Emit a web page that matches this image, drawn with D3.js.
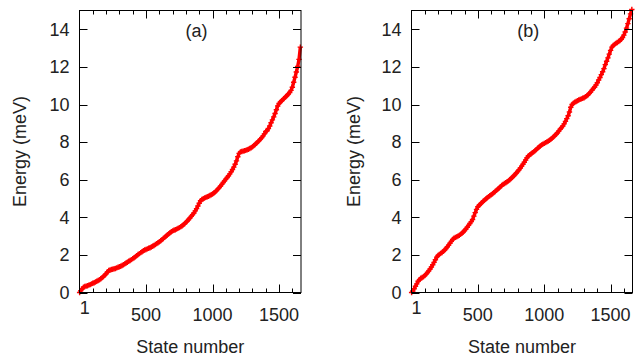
<!DOCTYPE html>
<html><head><meta charset="utf-8">
<script src="https://cdn.jsdelivr.net/npm/d3@7"></script>
<style>html,body{margin:0;padding:0;background:#fff}svg{display:block}</style>
</head><body><svg id="chart" width="644" height="358"></svg>
<script>
// State numbers (x values) shared by both panels
const stateNumbers = [1, ...d3.range(10, 1661, 10)];

// Panel (a) energies (meV)
const energyA = [
  0.00,0.10,0.20,0.28,0.32,0.34,0.36,0.39,0.42,0.46,
  0.49,0.52,0.56,0.60,0.64,0.68,0.73,0.79,0.85,0.92,
  1.00,1.09,1.17,1.20,1.22,1.24,1.26,1.28,1.31,1.34,
  1.37,1.40,1.44,1.48,1.52,1.57,1.61,1.66,1.70,1.75,
  1.80,1.85,1.90,1.96,2.02,2.07,2.12,2.17,2.22,2.26,
  2.29,2.32,2.35,2.38,2.42,2.46,2.50,2.55,2.60,2.65,
  2.70,2.75,2.81,2.87,2.93,2.99,3.06,3.12,3.18,3.23,
  3.28,3.31,3.34,3.37,3.41,3.45,3.49,3.54,3.60,3.66,
  3.73,3.80,3.88,3.96,4.05,4.14,4.23,4.34,4.46,4.60,
  4.75,4.88,4.95,4.99,5.03,5.06,5.09,5.12,5.16,5.20,
  5.24,5.29,5.35,5.42,5.50,5.58,5.66,5.75,5.85,5.94,
  6.03,6.12,6.21,6.31,6.42,6.54,6.67,6.82,7.00,7.22,
  7.40,7.48,7.50,7.52,7.54,7.56,7.59,7.62,7.66,7.70,
  7.75,7.81,7.87,7.94,8.01,8.08,8.16,8.24,8.33,8.44,
  8.56,8.60,8.72,8.86,9.03,9.18,9.34,9.52,9.72,9.92,
  10.05,10.13,10.20,10.27,10.34,10.41,10.48,10.56,10.64,10.75,
  10.92,11.18,11.45,11.73,12.02,12.40,13.05
];

// Panel (b) energies (meV)
const energyB = [
  0.00,0.08,0.20,0.33,0.46,0.60,0.68,0.76,0.80,0.84,
  0.90,0.98,1.06,1.15,1.25,1.36,1.48,1.60,1.74,1.88,
  1.97,2.03,2.08,2.13,2.19,2.26,2.34,2.43,2.52,2.62,
  2.72,2.82,2.89,2.93,2.96,3.00,3.04,3.09,3.15,3.22,
  3.30,3.38,3.47,3.57,3.67,3.77,3.88,4.06,4.25,4.42,
  4.56,4.64,4.71,4.78,4.85,4.91,4.97,5.04,5.10,5.15,
  5.20,5.25,5.31,5.37,5.43,5.49,5.56,5.63,5.69,5.75,
  5.80,5.84,5.89,5.94,6.00,6.06,6.13,6.20,6.28,6.36,
  6.44,6.53,6.62,6.72,6.82,6.93,7.05,7.17,7.26,7.32,
  7.37,7.43,7.48,7.54,7.60,7.67,7.73,7.79,7.85,7.89,
  7.93,7.97,8.01,8.05,8.10,8.15,8.21,8.28,8.35,8.42,
  8.50,8.59,8.68,8.77,8.86,8.97,9.10,9.25,9.40,9.60,
  9.85,10.00,10.07,10.12,10.16,10.20,10.24,10.27,10.30,10.33,
  10.36,10.41,10.46,10.52,10.59,10.67,10.76,10.86,10.93,11.04,
  11.16,11.30,11.44,11.59,11.74,11.91,12.12,12.30,12.48,12.68,
  12.88,13.05,13.14,13.20,13.25,13.30,13.35,13.40,13.47,13.56,
  13.69,13.86,14.06,14.30,14.56,14.82,15.05
];

const panelLabels = ["(a)", "(b)"];
const xTickMajor = [1, 500, 1000, 1500];
const xTickMinor = [100,200,300,400,600,700,800,900,1100,1200,1300,1400,1600];
const yTicks = [0, 2, 4, 6, 8, 10, 12, 14];
const xDomain = [0, 1665];
const yDomain = [0, 15];
const xTitle = "State number";
const yTitle = "Energy (meV)";

const svg = d3.select("#chart");
svg.append("rect").attr("width", 644).attr("height", 358).attr("fill", "#fff");

const FONT = "'Liberation Sans', Arial, sans-serif";
const TXT = "#222";
const panels = [
  {label: panelLabels[0], data: energyA, left: 79.5, right: 301, ylabX: 26},
  {label: panelLabels[1], data: energyB, left: 411.5, right: 632.5, ylabX: 359.5}
];
const plotTop = 10.5, plotBottom = 292.5;

panels.forEach(p => {
  const x = d3.scaleLinear().domain(xDomain).range([p.left, p.right]);
  const y = d3.scaleLinear().domain(yDomain).range([plotBottom, plotTop]);
  const g = svg.append("g");

  // data: line + plus markers
  const pts = stateNumbers.map((s, i) => [s, p.data[i]]);
  g.append("path").datum(pts)
    .attr("d", d3.line().x(d => x(d[0])).y(d => y(d[1])))
    .attr("fill", "none").attr("stroke", "#ff0000").attr("stroke-width", 3.4);
  const r = 2.7;
  g.append("g").selectAll("path").data(pts).join("path")
    .attr("d", d => {
      const cx = x(d[0]), cy = y(d[1]);
      return `M${cx - r},${cy}H${cx + r}M${cx},${cy - r}V${cy + r}`;
    })
    .attr("stroke", "#ff0000").attr("stroke-width", 1.4).attr("fill", "none");

  // frame
  g.append("rect").attr("x", p.left).attr("y", plotTop)
    .attr("width", p.right - p.left).attr("height", plotBottom - plotTop)
    .attr("fill", "none").attr("stroke", "#000").attr("stroke-width", 1);

  // x ticks (bottom + mirrored top)
  const ticks = g.append("g").attr("stroke", "#000").attr("stroke-width", 1);
  xTickMajor.filter(v => v !== 1).forEach(v => {
    const X = Math.round(x(v)) + 0.5;
    ticks.append("line").attr("x1", X).attr("x2", X).attr("y1", plotBottom).attr("y2", plotBottom - 8);
    ticks.append("line").attr("x1", X).attr("x2", X).attr("y1", plotTop).attr("y2", plotTop + 8);
  });
  xTickMinor.forEach(v => {
    const X = Math.round(x(v)) + 0.5;
    ticks.append("line").attr("x1", X).attr("x2", X).attr("y1", plotBottom).attr("y2", plotBottom - 4);
    ticks.append("line").attr("x1", X).attr("x2", X).attr("y1", plotTop).attr("y2", plotTop + 4);
  });
  yTicks.forEach(v => {
    const Y = Math.round(y(v)) + 0.5;
    ticks.append("line").attr("x1", p.left).attr("x2", p.left + 8).attr("y1", Y).attr("y2", Y);
    ticks.append("line").attr("x1", p.right).attr("x2", p.right - 8).attr("y1", Y).attr("y2", Y);
  });

  // tick labels
  const lab = g.append("g").attr("font-family", FONT).attr("font-size", 18).attr("fill", TXT);
  xTickMajor.forEach(v => {
    const isOne = v === 1;
    lab.append("text").attr("x", x(v) + (isOne ? 5 : 0)).attr("y", isOne ? 314 : 321)
      .attr("text-anchor", "middle").text(d3.format("d")(v));
  });
  yTicks.forEach(v => {
    lab.append("text").attr("x", p.left - 10).attr("y", y(v)).attr("dy", "0.35em")
      .attr("text-anchor", "end").text(v);
  });

  // axis titles
  lab.append("text").attr("x", (p.left + p.right) / 2).attr("y", 353)
    .attr("text-anchor", "middle").text(xTitle);
  lab.append("text").attr("transform", `translate(${p.ylabX},${(plotTop + plotBottom) / 2}) rotate(-90)`)
    .attr("text-anchor", "middle").text(yTitle);

  // panel label
  lab.append("text").attr("x", x(880)).attr("y", 36.5)
    .attr("text-anchor", "middle").text(p.label);
});
</script>
</body></html>
